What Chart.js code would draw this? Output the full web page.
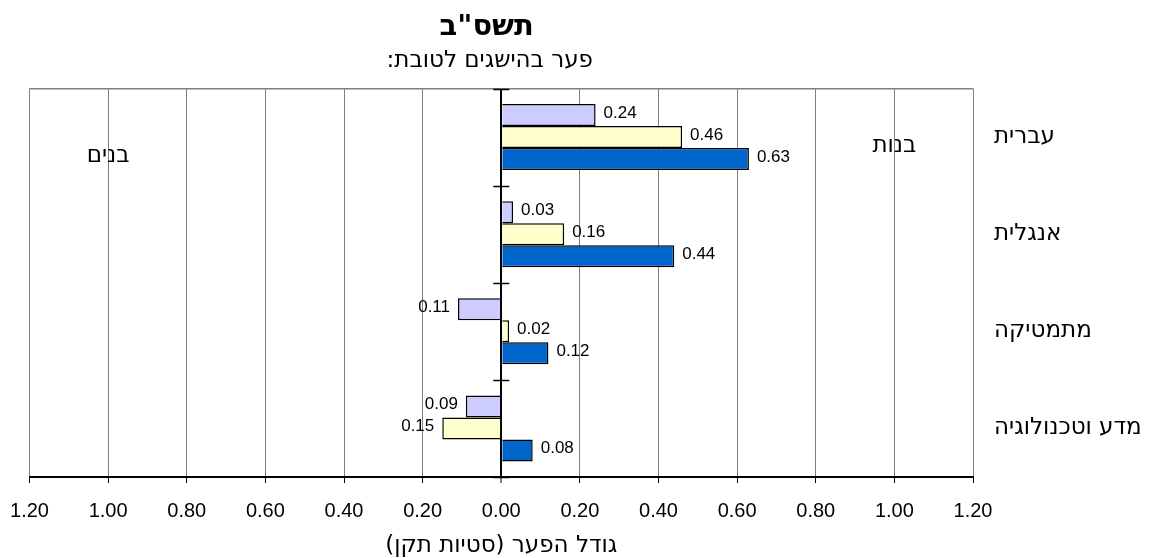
<!DOCTYPE html>
<html>
<head>
<meta charset="utf-8">
<script src="https://cdn.jsdelivr.net/npm/chart.js@4/dist/chart.umd.min.js"></script>
<style>
  html, body { margin: 0; padding: 0; background: #ffffff; }
  #wrap { width: 1151px; height: 558px; }
</style>
</head>
<body>
<div id="wrap"><canvas id="c" width="1151" height="558"></canvas></div>
<script>
// ---- data ----
const categories = ['עברית', 'אנגלית', 'מתמטיקה', 'מדע וטכנולוגיה'];
const seriesA = [0.24, 0.03, -0.11, -0.09];   // lavender
const seriesB = [0.46, 0.16, 0.02, -0.15];    // light yellow
const seriesC = [0.63, 0.44, 0.12, 0.08];     // blue
const xMin = -1.2, xMax = 1.2, xStep = 0.2;
const titleText = 'תשס"ב\u2002\u2002';
const subtitleText = '\u200Fפער בהישגים לטובת:\u200F\u2002\u2002';
const axisTitleText = '\u200Fגודל הפער (סטיות תקן)\u200F';
const leftSideLabel = 'בנים';
const rightSideLabel = 'בנות';

const HEB = '"DejaVu Sans", sans-serif';
const NUM = '"Liberation Sans", Arial, sans-serif';

const sideLabelsPlugin = {
  id: 'sideLabels',
  afterDatasetsDraw(chart) {
    const ctx = chart.ctx, xs = chart.scales.x, ys = chart.scales.y, area = chart.chartArea;
    ctx.save();
    const x0 = xs.getPixelForValue(0);
    ctx.strokeStyle = '#000';
    ctx.lineWidth = 1.5;
    for (let i = 0; i <= categories.length; i++) {
      const y = Math.round(ys.getPixelForValue(i - 0.5)) + 0.5;
      ctx.beginPath();
      ctx.moveTo(x0 - 8, y);
      ctx.lineTo(x0 + 8, y);
      ctx.stroke();
    }
    ctx.font = '17px ' + NUM;
    ctx.fillStyle = '#000';
    ctx.textBaseline = 'middle';
    chart.data.datasets.forEach((ds, di) => {
      const meta = chart.getDatasetMeta(di);
      meta.data.forEach((el, i) => {
        const v = ds.data[i];
        const txt = Math.abs(v).toFixed(2);
        if (v >= 0) { ctx.textAlign = 'left'; ctx.fillText(txt, el.x + 8, el.y - 2); }
        else { ctx.textAlign = 'right'; ctx.fillText(txt, el.x - 8, el.y - 2); }
      });
    });
    ctx.font = '23px ' + HEB;
    ctx.textAlign = 'center';
    ctx.fillText(leftSideLabel, xs.getPixelForValue(-1.0), area.top + 68);
    ctx.fillText(rightSideLabel, xs.getPixelForValue(1.0), area.top + 58);
    ctx.restore();
  }
};

new Chart(document.getElementById('c'), {
  type: 'bar',
  data: {
    labels: categories,
    datasets: [
      { data: seriesA, backgroundColor: '#CCCCFF', borderColor: '#000', borderWidth: 1.5 },
      { data: seriesB, backgroundColor: '#FFFFCC', borderColor: '#000', borderWidth: 1.5 },
      { data: seriesC, backgroundColor: '#0066CC', borderColor: '#000', borderWidth: 1.5 }
    ]
  },
  options: {
    indexAxis: 'y',
    responsive: false,
    animation: false,
    layout: { padding: { left: 29.5, right: 0, top: 0, bottom: 0 } },
    datasets: { bar: { categoryPercentage: 0.68, barPercentage: 1.0 } },
    plugins: {
      legend: { display: false },
      tooltip: { enabled: false },
      title: {
        display: true, text: titleText, color: '#000', fullSize: false,
        font: { family: HEB, size: 29, weight: 'bold', lineHeight: 1.2 },
        padding: { top: 9.6, bottom: 0 }
      },
      subtitle: {
        display: true, text: subtitleText, color: '#000', fullSize: false,
        font: { family: HEB, size: 23, lineHeight: 1.2 },
        padding: { top: 3, bottom: 13.5 }
      }
    },
    scales: {
      x: {
        type: 'linear', min: xMin, max: xMax,
        afterFit(scale) { scale.height = 81; scale.paddingLeft = 0; scale.paddingRight = 0; },
        ticks: {
          stepSize: xStep, autoSkip: false, maxRotation: 0, padding: 16.5,
          color: '#000', font: { family: NUM, size: 20 },
          callback: (v) => Math.abs(v).toFixed(2)
        },
        grid: {
          color: (c) => (c.tick && Math.abs(c.tick.value) < 1e-9) ? '#000' : '#808080',
          lineWidth: (c) => (c.tick && Math.abs(c.tick.value) < 1e-9) ? 2 : 1,
          tickColor: '#000', tickLength: 6, tickWidth: 1
        },
        border: { display: true, color: '#000', width: 2 },
        title: {
          display: true, text: axisTitleText, color: '#000',
          font: { family: HEB, size: 23, lineHeight: 1.0 },
          padding: { top: 0, bottom: 0 }
        }
      },
      y: {
        position: 'right',
        afterFit(scale) { scale.width = 178; },
        ticks: { color: '#000', font: { family: HEB, size: 23 }, padding: 21 },
        grid: {
          offset: true, drawTicks: false,
          color: (c) => c.index === 0 ? '#808080' : 'rgba(0,0,0,0)',
          lineWidth: 1.5
        },
        border: { display: false }
      }
    }
  },
  plugins: [sideLabelsPlugin]
});
</script>
</body>
</html>
